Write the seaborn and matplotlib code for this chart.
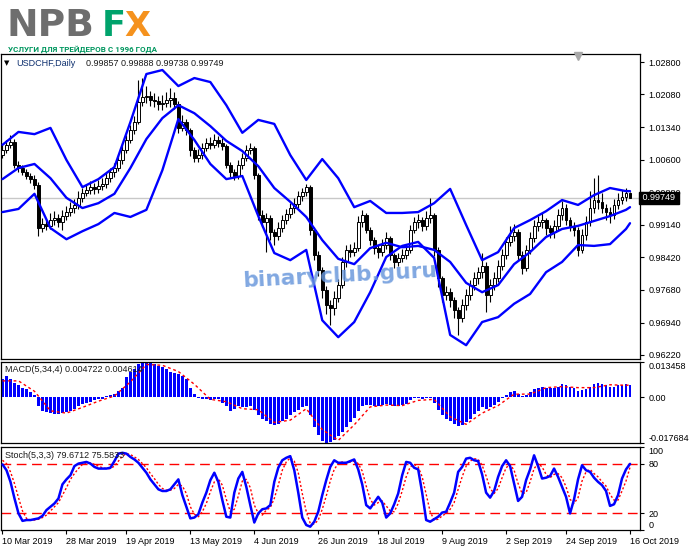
"""USDCHF daily chart in MT4 style: candles + Bollinger bands, MACD and stochastic panels."""

import matplotlib
matplotlib.use("Agg")
import matplotlib.pyplot as plt
import seaborn as sns
from matplotlib import font_manager

# ---------------------------------------------------------------- data
opens = [
    1.0072, 1.0082, 1.0094, 1.0100, 1.0049, 1.0042, 1.0033, 1.0024, 1.0017, 1.0004,
    0.9907, 0.9916, 0.9912, 0.9925, 0.9930, 0.9921, 0.9934, 0.9943, 0.9952, 0.9959,
    0.9975, 0.9986, 0.9993, 0.9999, 0.9995, 1.0001, 1.0006, 1.0019, 1.0033, 1.0042,
    1.0060, 1.0082, 1.0105, 1.0127, 1.0145, 1.0190, 1.0201, 1.0204, 1.0195, 1.0192,
    1.0186, 1.0188, 1.0195, 1.0199, 1.0186, 1.0132, 1.0145, 1.0127, 1.0082, 1.0064,
    1.0071, 1.0087, 1.0098, 1.0094, 1.0105, 1.0098, 1.0091, 1.0049, 1.0033, 1.0024,
    1.0049, 1.0064, 1.0082, 1.0087, 1.0026, 0.9936, 0.9921, 0.9930, 0.9898, 0.9889,
    0.9907, 0.9925, 0.9939, 0.9952, 0.9961, 0.9979, 0.9988, 0.9999, 0.9903, 0.9847,
    0.9813, 0.9768, 0.9734, 0.9728, 0.9750, 0.9779, 0.9831, 0.9858, 0.9853, 0.9862,
    0.9921, 0.9936, 0.9903, 0.9880, 0.9862, 0.9853, 0.9869, 0.9885, 0.9847, 0.9831,
    0.9840, 0.9847, 0.9858, 0.9903, 0.9921, 0.9925, 0.9912, 0.9930, 0.9936, 0.9858,
    0.9795, 0.9757, 0.9763, 0.9745, 0.9723, 0.9705, 0.9734, 0.9757, 0.9779, 0.9795,
    0.9808, 0.9822, 0.9757, 0.9779, 0.9795, 0.9822, 0.9847, 0.9876, 0.9889, 0.9898,
    0.9847, 0.9817, 0.9858, 0.9885, 0.9912, 0.9921, 0.9925, 0.9907, 0.9898, 0.9912,
    0.9936, 0.9952, 0.9925, 0.9912, 0.9903, 0.9858, 0.9891, 0.9921, 0.9952, 0.9970,
    0.9966, 0.9952, 0.9943, 0.9936, 0.9959, 0.9970, 0.9977, 0.99857,
]
highs = [
    1.0095, 1.0104, 1.0116, 1.0106, 1.0058, 1.0049, 1.0040, 1.0031, 1.0027, 1.0010,
    0.9930, 0.9925, 0.9940, 0.9945, 0.9938, 0.9948, 0.9957, 0.9966, 0.9972, 0.9990,
    0.9998, 1.0006, 1.0012, 1.0008, 1.0016, 1.0020, 1.0031, 1.0042, 1.0053, 1.0072,
    1.0094, 1.0116, 1.0138, 1.0158, 1.0240, 1.0244, 1.0226, 1.0215, 1.0210, 1.0203,
    1.0205, 1.0212, 1.0222, 1.0212, 1.0192, 1.0160, 1.0152, 1.0132, 1.0090, 1.0085,
    1.0098, 1.0110, 1.0112, 1.0118, 1.0114, 1.0110, 1.0096, 1.0055, 1.0040, 1.0060,
    1.0076, 1.0094, 1.0098, 1.0092, 1.0030, 0.9948, 0.9942, 0.9936, 0.9905, 0.9920,
    0.9937, 0.9950, 0.9963, 0.9974, 0.9990, 0.9998, 1.0006, 1.0004, 0.9910, 0.9855,
    0.9820, 0.9778, 0.9745, 0.9765, 0.9792, 0.9842, 0.9870, 0.9872, 0.9875, 0.9935,
    0.9947, 0.9942, 0.9910, 0.9888, 0.9870, 0.9882, 0.9898, 0.9890, 0.9852, 0.9852,
    0.9860, 0.9872, 0.9915, 0.9933, 0.9938, 0.9932, 0.9945, 0.9975, 0.9942, 0.9865,
    0.9800, 0.9778, 0.9772, 0.9752, 0.9730, 0.9748, 0.9770, 0.9790, 0.9808, 0.9820,
    0.9852, 0.9830, 0.9792, 0.9808, 0.9836, 0.9860, 0.9888, 0.9912, 0.9916, 0.9905,
    0.9855, 0.9870, 0.9898, 0.9925, 0.9935, 0.9940, 0.9930, 0.9915, 0.9925, 0.9950,
    0.9968, 0.9960, 0.9932, 0.9920, 0.9910, 0.9905, 0.9935, 0.9990, 1.0019, 1.0026,
    0.9985, 0.9962, 0.9955, 0.9972, 0.9985, 0.9992, 0.9998, 0.99888,
]
lows = [
    1.0065, 1.0076, 1.0088, 1.0042, 1.0034, 1.0026, 1.0017, 1.0008, 0.9995, 0.9890,
    0.9898, 0.9902, 0.9905, 0.9915, 0.9910, 0.9903, 0.9925, 0.9935, 0.9940, 0.9950,
    0.9966, 0.9978, 0.9983, 0.9984, 0.9986, 0.9992, 0.9998, 1.0010, 1.0022, 1.0035,
    1.0052, 1.0075, 1.0098, 1.0118, 1.0140, 1.0182, 1.0188, 1.0182, 1.0178, 1.0172,
    1.0172, 1.0178, 1.0180, 1.0175, 1.0120, 1.0125, 1.0115, 1.0070, 1.0055, 1.0055,
    1.0062, 1.0080, 1.0085, 1.0088, 1.0090, 1.0082, 1.0042, 1.0022, 1.0015, 1.0018,
    1.0040, 1.0058, 1.0074, 1.0018, 0.9925, 0.9910, 0.9853, 0.9880, 0.9870, 0.9880,
    0.9898, 0.9916, 0.9930, 0.9942, 0.9952, 0.9968, 0.9978, 0.9892, 0.9835, 0.9800,
    0.9750, 0.9715, 0.9689, 0.9712, 0.9740, 0.9772, 0.9820, 0.9842, 0.9845, 0.9855,
    0.9910, 0.9895, 0.9868, 0.9848, 0.9840, 0.9845, 0.9860, 0.9835, 0.9818, 0.9822,
    0.9830, 0.9838, 0.9850, 0.9895, 0.9908, 0.9900, 0.9902, 0.9918, 0.9845, 0.9775,
    0.9740, 0.9745, 0.9730, 0.9705, 0.9667, 0.9695, 0.9722, 0.9745, 0.9768, 0.9782,
    0.9795, 0.9719, 0.9742, 0.9768, 0.9785, 0.9812, 0.9838, 0.9866, 0.9878, 0.9835,
    0.9805, 0.9810, 0.9848, 0.9875, 0.9900, 0.9908, 0.9892, 0.9885, 0.9885, 0.9902,
    0.9925, 0.9915, 0.9900, 0.9890, 0.9845, 0.9850, 0.9880, 0.9912, 0.9942, 0.9950,
    0.9940, 0.9925, 0.9918, 0.9928, 0.9950, 0.9960, 0.9968, 0.99738,
]
closes = [
    1.0082, 1.0094, 1.0100, 1.0049, 1.0042, 1.0033, 1.0024, 1.0017, 1.0004, 0.9907,
    0.9916, 0.9912, 0.9925, 0.9930, 0.9921, 0.9934, 0.9943, 0.9952, 0.9959, 0.9975,
    0.9986, 0.9993, 0.9999, 0.9995, 1.0001, 1.0006, 1.0019, 1.0033, 1.0042, 1.0060,
    1.0082, 1.0105, 1.0127, 1.0145, 1.0190, 1.0201, 1.0204, 1.0195, 1.0192, 1.0186,
    1.0188, 1.0195, 1.0199, 1.0186, 1.0132, 1.0145, 1.0127, 1.0082, 1.0064, 1.0071,
    1.0087, 1.0098, 1.0094, 1.0105, 1.0098, 1.0091, 1.0049, 1.0033, 1.0024, 1.0049,
    1.0064, 1.0082, 1.0087, 1.0026, 0.9936, 0.9921, 0.9930, 0.9898, 0.9889, 0.9907,
    0.9925, 0.9939, 0.9952, 0.9961, 0.9979, 0.9988, 0.9999, 0.9903, 0.9847, 0.9813,
    0.9768, 0.9734, 0.9728, 0.9750, 0.9779, 0.9831, 0.9858, 0.9853, 0.9862, 0.9921,
    0.9936, 0.9903, 0.9880, 0.9862, 0.9853, 0.9869, 0.9885, 0.9847, 0.9831, 0.9840,
    0.9847, 0.9858, 0.9903, 0.9921, 0.9925, 0.9912, 0.9930, 0.9936, 0.9858, 0.9795,
    0.9757, 0.9763, 0.9745, 0.9723, 0.9705, 0.9734, 0.9757, 0.9779, 0.9795, 0.9808,
    0.9822, 0.9757, 0.9779, 0.9795, 0.9822, 0.9847, 0.9876, 0.9889, 0.9898, 0.9847,
    0.9817, 0.9858, 0.9885, 0.9912, 0.9921, 0.9925, 0.9907, 0.9898, 0.9912, 0.9936,
    0.9952, 0.9925, 0.9912, 0.9903, 0.9858, 0.9891, 0.9921, 0.9952, 0.9970, 0.9966,
    0.9952, 0.9943, 0.9936, 0.9959, 0.9970, 0.9977, 0.99857, 0.99749,
]

# Bollinger bands, read every 4th bar
band_bars = list(range(0, 157, 4)) + [157]
bb_upper = [
    1.0094, 1.0123, 1.0118, 1.0132, 1.0060, 0.9999, 1.0017, 1.0044, 1.0145, 1.0253,
    1.0262, 1.0226, 1.0244, 1.0235, 1.0183, 1.0121, 1.0150, 1.0141, 1.0071, 1.0015,
    1.0062, 1.0019, 0.9954, 0.9968, 0.9941, 0.9941, 0.9943, 0.9963, 0.9995, 0.9914,
    0.9835, 0.9853, 0.9907, 0.9925, 0.9945, 0.9970, 0.9959, 0.9981, 0.9997, 0.9990,
    0.9990,
]
bb_middle = [
    1.0017, 1.0042, 1.0051, 1.0019, 0.9975, 0.9952, 0.9963, 0.9984, 1.0042, 1.0107,
    1.0154, 1.0183, 1.0165, 1.0136, 1.0103, 1.0080, 1.0046, 0.9997, 0.9966, 0.9932,
    0.9880, 0.9838, 0.9826, 0.9862, 0.9874, 0.9864, 0.9867, 0.9858, 0.9831, 0.9784,
    0.9763, 0.9779, 0.9826, 0.9853, 0.9887, 0.9905, 0.9912, 0.9923, 0.9934, 0.9948,
    0.9954,
]
bb_lower = [
    0.9943, 0.9950, 0.9984, 0.9907, 0.9882, 0.9900, 0.9916, 0.9941, 0.9932, 0.9948,
    1.0037, 1.0152, 1.0105, 1.0051, 1.0017, 1.0024, 0.9934, 0.9851, 0.9835, 0.9858,
    0.9700, 0.9662, 0.9696, 0.9763, 0.9842, 0.9867, 0.9876, 0.9840, 0.9667, 0.9644,
    0.9696, 0.9707, 0.9737, 0.9759, 0.9808, 0.9831, 0.9869, 0.9867, 0.9871, 0.9905,
    0.9918,
]

# MACD(5,34,4): histogram per bar, signal read every 4th bar
macd_hist = [
    0.0071, 0.0080, 0.0071, 0.0053, 0.0045, 0.0036, 0.0031, 0.0018, 0.0009, -0.0036,
    -0.0053, -0.0058, -0.0062, -0.0067, -0.0067, -0.0062, -0.0058, -0.0053, -0.0045, -0.0036,
    -0.0027, -0.0022, -0.0018, -0.0013, -0.0009, -0.0009, 0.0002, 0.0009, 0.0013, 0.0022,
    0.0036, 0.0076, 0.0098, 0.0107, 0.0125, 0.0134, 0.013458, 0.0129, 0.0125, 0.0120,
    0.0116, 0.0107, 0.0098, 0.0093, 0.0089, 0.0080, 0.0071, 0.0036, 0.0013, -0.0004,
    -0.0009, -0.0009, -0.0013, -0.0009, -0.0009, -0.0022, -0.0036, -0.0053, -0.0045, -0.0036,
    -0.0040, -0.0040, -0.0036, -0.0049, -0.0071, -0.0085, -0.0093, -0.0102, -0.0107, -0.0102,
    -0.0093, -0.0085, -0.0071, -0.0058, -0.0049, -0.0040, -0.0036, -0.0071, -0.0116, -0.0147,
    -0.0169, -0.017684, -0.0174, -0.0165, -0.0151, -0.0134, -0.0116, -0.0098, -0.0080, -0.0053,
    -0.0036, -0.0031, -0.0031, -0.0036, -0.0036, -0.0031, -0.0027, -0.0031, -0.0036, -0.0036,
    -0.0031, -0.0027, -0.0013, -0.0004, -0.0004, -0.0009, -0.0004, -0.0004, -0.0022, -0.0049,
    -0.0071, -0.0085, -0.0093, -0.0102, -0.0111, -0.0107, -0.0098, -0.0085, -0.0067, -0.0053,
    -0.0040, -0.0045, -0.0040, -0.0031, -0.0018, -0.0004, 0.0009, 0.0018, 0.0022, 0.0013,
    0.0004, 0.0009, 0.0018, 0.0031, 0.0036, 0.0040, 0.0036, 0.0036, 0.0036, 0.0040,
    0.0049, 0.0045, 0.0040, 0.0036, 0.0022, 0.0027, 0.0031, 0.0040, 0.0049, 0.0053,
    0.0049, 0.0045, 0.0040, 0.0040, 0.0045, 0.0045, 0.0049, 0.004722,
]
macd_signal = [
    0.0062, 0.0062, 0.0022, -0.0053, -0.0062, -0.0040, -0.0016, 0.0004, 0.0058, 0.0125,
    0.0122, 0.0098, 0.0049, -0.0009, -0.0018, -0.0045, -0.0049, -0.0098, -0.0089, -0.0045,
    -0.0125, -0.0167, -0.0107, -0.0038, -0.0031, -0.0033, -0.0013, -0.0009, -0.0076, -0.0105,
    -0.0062, -0.0033, 0.0011, 0.0011, 0.0036, 0.0040, 0.0036, 0.0036, 0.0047, 0.0045,
    0.004614,
]

# Stochastic(5,3,3) per bar
stoch_main = [
    79, 72, 58, 38, 20, 11, 12, 12, 13, 14,
    17, 24, 28, 32, 38, 55, 61, 66, 77, 80,
    81, 82, 80, 76, 74, 74, 74, 75, 83, 92,
    93, 92, 88, 85, 81, 75, 69, 61, 55, 49,
    47, 47, 49, 55, 61, 42, 28, 14, 15, 19,
    33, 45, 60, 69, 58, 36, 16, 15, 45, 62,
    70, 52, 30, 9, 20, 25, 26, 30, 58, 75,
    84, 87, 89, 72, 45, 15, 6, 4, 10, 22,
    42, 60, 76, 84, 81, 81, 81, 83, 85, 73,
    55, 30, 26, 33, 40, 33, 15, 20, 31, 44,
    66, 82, 81, 75, 73, 45, 12, 10, 13, 16,
    21, 22, 33, 45, 70, 76, 86, 87, 84, 83,
    67, 45, 39, 47, 64, 77, 84, 77, 56, 35,
    40, 60, 73, 90, 77, 62, 63, 65, 74, 64,
    52, 40, 20, 37, 61, 78, 72, 70, 63, 58,
    54, 47, 29, 31, 42, 62, 73, 79.6712,
]
stoch_signal = [
    84, 80, 70, 56, 39, 23, 14, 12, 12, 13,
    15, 18, 23, 28, 33, 42, 51, 61, 68, 74,
    79, 81, 81, 79, 77, 75, 74, 74, 77, 83,
    89, 92, 91, 88, 85, 80, 75, 68, 62, 55,
    50, 48, 48, 50, 55, 53, 44, 28, 19, 16,
    22, 32, 46, 58, 62, 54, 37, 22, 25, 41,
    59, 61, 51, 30, 20, 18, 24, 27, 38, 54,
    72, 82, 87, 83, 69, 44, 22, 8, 7, 12,
    25, 41, 59, 73, 80, 82, 81, 82, 83, 80,
    71, 53, 37, 30, 33, 35, 29, 23, 22, 32,
    47, 64, 76, 79, 76, 64, 43, 22, 12, 13,
    17, 20, 25, 33, 49, 64, 77, 83, 86, 85,
    78, 65, 50, 44, 50, 63, 75, 79, 72, 56,
    44, 45, 58, 74, 80, 76, 67, 63, 67, 68,
    63, 52, 37, 32, 39, 59, 70, 73, 68, 64,
    58, 53, 43, 36, 36, 47, 59, 75.5833,
]

price_ticks = [1.02800, 1.02080, 1.01340, 1.00600, 0.99880,
               0.99140, 0.98420, 0.97680, 0.96940, 0.96220]
date_bars = [0, 16, 31, 47, 63, 79, 94, 110, 126, 141, 157]
date_labels = ['10 Mar 2019', '28 Mar 2019', '19 Apr 2019', '13 May 2019',
               '4 Jun 2019', '26 Jun 2019', '18 Jul 2019', '9 Aug 2019',
               '2 Sep 2019', '24 Sep 2019', '16 Oct 2019']
last_price = 0.99749

# ---------------------------------------------------------------- figure
sns.set_theme(style="white")
plt.rcParams['font.family'] = ['Liberation Sans', 'DejaVu Sans']

W, H = 691, 549
fig = plt.figure(figsize=(W / 100, H / 100), dpi=100)
fig.patch.set_facecolor('white')
BLUE = '#0000ff'
RED = '#ff0000'
SMALL = 6.5


def fx(x):
    return x / W


def fy(y):
    return 1 - y / H


def panel(top, bottom):
    ax = fig.add_axes([fx(0.5), fy(bottom), 639.5 / W, (bottom - top) / H])
    ax.set_facecolor('white')
    ax.set_xlim(-0.5, 159.5)
    for s in ax.spines.values():
        s.set_color('black')
        s.set_linewidth(0.9)
    ax.grid(False)
    ax.yaxis.tick_right()
    ax.tick_params(axis='y', direction='out', length=3, width=0.8, pad=3,
                   labelsize=SMALL, colors='black', left=False, right=True)
    ax.set_xticks([])
    return ax


ax_p = panel(54, 359)
ax_m = panel(362, 443)
ax_s = panel(447, 530)

bars = list(range(len(closes)))

# ---- price panel
ax_p.set_ylim(0.96130, 1.02980)
ax_p.axhline(last_price, color='#c8c8c8', lw=1, zorder=1)
ax_p.vlines(bars, lows, highs, color='black', lw=0.8, zorder=2)
for i in bars:
    o, c = opens[i], closes[i]
    bottom = min(o, c)
    height = max(abs(c - o), 0.00006)
    face = 'white' if c >= o else 'black'
    ax_p.bar(i, height, bottom=bottom, width=0.72, color=face,
             edgecolor='black', linewidth=0.7, zorder=3)

for band in (bb_upper, bb_middle, bb_lower):
    sns.lineplot(x=band_bars, y=band, ax=ax_p, color=BLUE, lw=1.7,
                 estimator=None, sort=False, zorder=4)

ax_p.set_yticks(price_ticks)
ax_p.set_yticklabels([f'{v:.5f}' for v in price_ticks])
ax_p.set_xlabel('')
ax_p.set_ylabel('')
ax_p.text(1.0, last_price, ' 0.99749 ', transform=ax_p.get_yaxis_transform(),
          ha='left', va='center', fontsize=SMALL, color='white', zorder=10,
          clip_on=False,
          bbox=dict(boxstyle='square,pad=0.15', facecolor='black', edgecolor='black'))
ax_p.plot([0.903], [0.992], marker='v', ms=6, color='#a8a8a8',
          transform=ax_p.transAxes, clip_on=False, zorder=6)

# ---- MACD panel
ax_m.set_ylim(-0.017684, 0.013458)
ax_m.bar(bars, macd_hist, width=0.72, color=BLUE, linewidth=0, zorder=2)
sns.lineplot(x=band_bars, y=macd_signal, ax=ax_m, color=RED, lw=1.0,
             estimator=None, sort=False, zorder=3, linestyle=(0, (2, 2)))
ax_m.set_yticks([0.013458, 0.0, -0.017684])
ax_m.set_yticklabels(['0.013458', '0.00', '-0.017684'])
ax_m.set_ylabel('')
ml = ax_m.get_yticklabels()
ml[0].set_va('top')
ml[2].set_va('bottom')

# ---- stochastic panel
ax_s.set_ylim(0, 100)
for lvl in (80, 20):
    ax_s.axhline(lvl, color=RED, lw=1.0, ls=(0, (7, 4)), zorder=1)
sns.lineplot(x=bars, y=stoch_signal, ax=ax_s, color=RED, lw=1.0,
             estimator=None, sort=False, zorder=2, linestyle=(0, (1.5, 1.5)))
sns.lineplot(x=bars, y=stoch_main, ax=ax_s, color=BLUE, lw=1.8,
             estimator=None, sort=False, zorder=3)
ax_s.set_yticks([100, 80, 20, 0])
ax_s.set_yticklabels(['100', '80', '20', '0'])
ax_s.set_ylabel('')
sl = ax_s.get_yticklabels()
sl[0].set_va('top')
sl[3].set_va('bottom')
ax_s.set_xticks(date_bars)
ax_s.set_xticklabels(date_labels, ha='left')
ax_s.tick_params(axis='x', direction='out', length=3, width=0.8, pad=2,
                 labelsize=SMALL, colors='black', bottom=True)

# ---- panel captions
fig.text(fx(4), fy(63), '\u25bc', fontsize=5, color='black', va='center',
         family=['DejaVu Sans'])
fig.text(fx(16), fy(63), 'USDCHF,Daily', fontsize=SMALL, color='#0d2f6e', va='center')
fig.text(fx(86), fy(63), '0.99857 0.99888 0.99738 0.99749', fontsize=SMALL,
         color='#1a1a1a', va='center')
fig.text(fx(5), fy(370), 'MACD(5,34,4) 0.004722 0.004614', fontsize=SMALL,
         color='#1a1a1a', va='center')
fig.text(fx(5), fy(456), 'Stoch(5,3,3) 79.6712 75.5833', fontsize=SMALL,
         color='#1a1a1a', va='center')

# ---- logo and watermark
renderer = fig.canvas.get_renderer()


def fit_width(t, width_px):
    bb = t.get_window_extent(renderer)
    t.set_fontsize(t.get_fontsize() * width_px / bb.width)


def font_available(name):
    try:
        font_manager.findfont(font_manager.FontProperties(family=name),
                              fallback_to_default=False)
        return True
    except ValueError:
        return False


logo = dict(fontsize=27, fontweight='bold', va='baseline', family=['DejaVu Sans'])
t = fig.text(fx(7), fy(36), 'NPB', color='#6e6e6e', **logo)
fit_width(t, 88)
t = fig.text(fx(102), fy(36), 'F', color='#00a36c', **logo)
fit_width(t, 24)
t = fig.text(fx(124), fy(36), 'X', color='#f5921e', **logo)
fit_width(t, 26)

sub_font = 'Liberation Sans Narrow' if font_available('Liberation Sans Narrow') else 'Roboto'
t = fig.text(fx(8), fy(52), 'УСЛУГИ ДЛЯ ТРЕЙДЕРОВ С 1996 ГОДА', fontsize=6,
             fontweight='bold', color='#00965e', va='baseline', family=[sub_font, 'DejaVu Sans'])
fit_width(t, 150)

t = fig.text(fx(340), fy(276), 'binaryclub.guru', fontsize=15, fontweight='bold',
             color='#6a98dc', alpha=0.85, ha='center', va='center', rotation=3,
             family=['DejaVu Sans'], zorder=20)
fit_width(t, 195)

fig.savefig('out.png', dpi=100, facecolor='white')
